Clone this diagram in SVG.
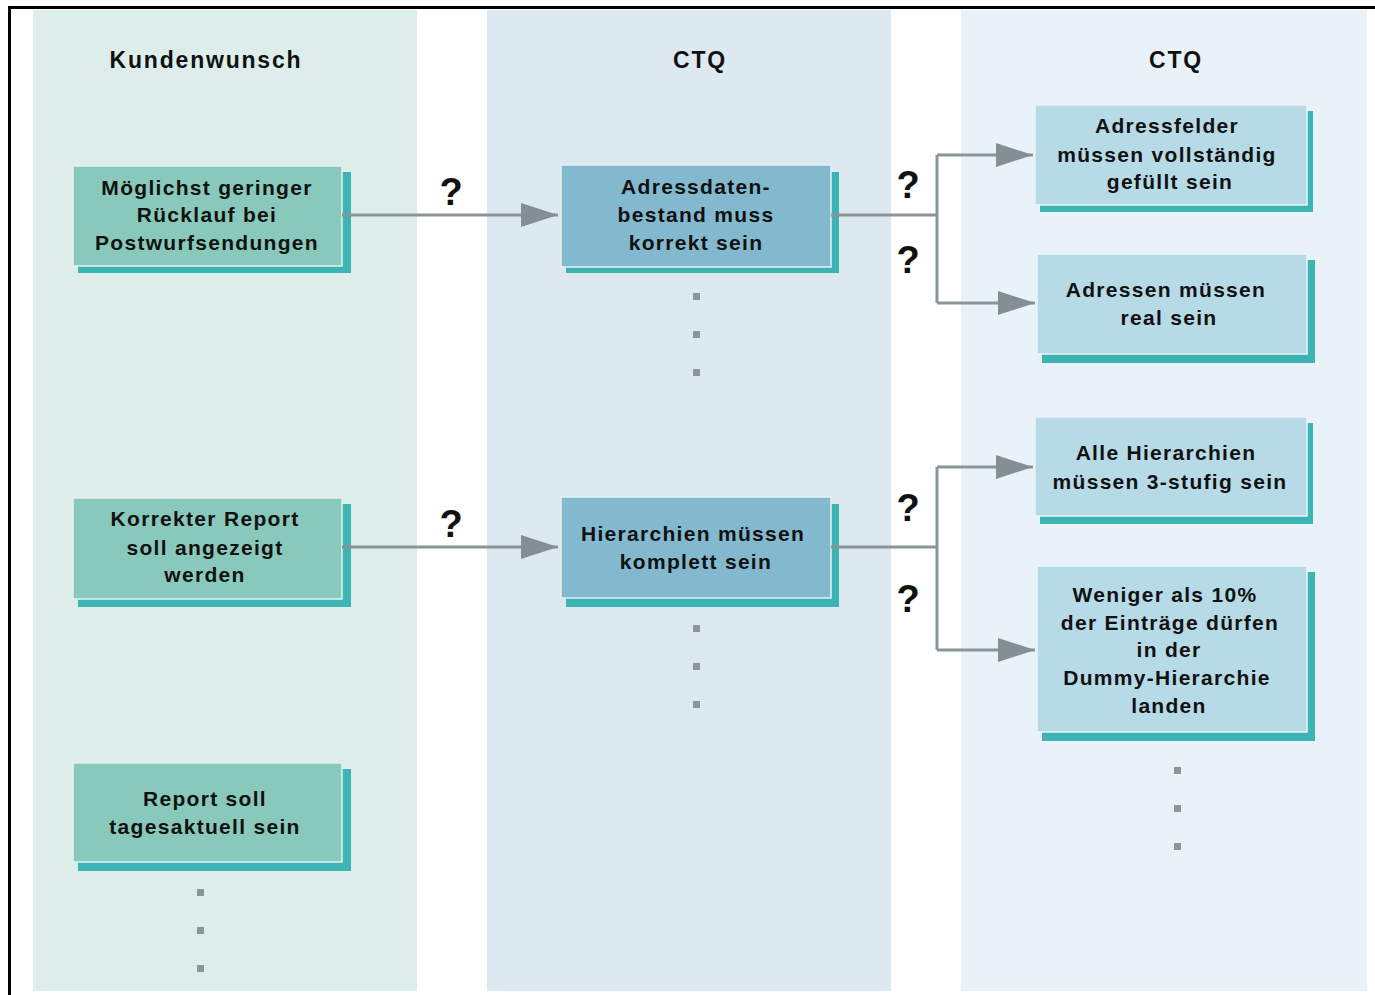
<svg xmlns="http://www.w3.org/2000/svg" width="1375" height="995" viewBox="0 0 1375 995">
<style>
  .hdr { font-family: "Liberation Sans", Arial, sans-serif; font-size: 23px; font-weight: bold; fill: #111; text-anchor: middle; letter-spacing: 1.8px; }
  .t { font-family: "Liberation Sans", Arial, sans-serif; font-size: 21px; font-weight: bold; fill: #111; text-anchor: middle; letter-spacing: 1.3px; }
  .q { font-family: "Liberation Sans", Arial, sans-serif; font-size: 38px; font-weight: bold; fill: #111; text-anchor: middle; }
  .sh { fill: #3cb4b4; }
  .bl { fill: #89c9bc; stroke: #e4f2ef; stroke-width: 1.5; }
  .bm { fill: #83b9cf; stroke: #e4eff5; stroke-width: 1.5; }
  .br { fill: #b7dae7; stroke: #ebf4f8; stroke-width: 1.5; }
  .ln { fill: none; stroke: #8a9599; stroke-width: 3; }
  .dot { fill: #8a969c; }
</style>
<defs>
  <marker id="ah" markerWidth="37" markerHeight="24" refX="37" refY="12" orient="auto" markerUnits="userSpaceOnUse">
    <path d="M0,0 L37,12 L0,24 Z" fill="#838f95"/>
  </marker>
</defs>
<rect width="1375" height="995" fill="#ffffff"/>
<!-- frame -->
<path d="M9.5,995 V7.5 H1375" fill="none" stroke="#000" stroke-width="3"/>
<!-- columns -->
<rect x="33" y="10" width="384" height="981" fill="#ddeeea"/>
<rect x="487" y="10" width="404" height="981" fill="#dde9f1"/>
<rect x="961" y="10" width="406" height="981" fill="#e9f2f8"/>
<text class="hdr" x="206" y="68">Kundenwunsch</text>
<text class="hdr" x="700" y="68">CTQ</text>
<text class="hdr" x="1176" y="68">CTQ</text>

<!-- left column nodes -->
<g id="k1">
  <rect class="sh" x="78" y="172" width="273" height="101"/>
  <rect class="bl" x="73" y="166" width="269" height="100"/>
  <text class="t" x="207" y="195">Möglichst geringer</text>
  <text class="t" x="207" y="222">Rücklauf bei</text>
  <text class="t" x="207" y="250">Postwurfsendungen</text>
</g>
<g id="k2">
  <rect class="sh" x="78" y="504" width="273" height="103"/>
  <rect class="bl" x="73" y="498" width="269" height="101"/>
  <text class="t" x="205" y="526">Korrekter Report</text>
  <text class="t" x="205" y="555">soll angezeigt</text>
  <text class="t" x="205" y="582">werden</text>
</g>
<g id="k3">
  <rect class="sh" x="78" y="769" width="273" height="102"/>
  <rect class="bl" x="73" y="763" width="269" height="99"/>
  <text class="t" x="205" y="806">Report soll</text>
  <text class="t" x="205" y="834">tagesaktuell sein</text>
</g>
<g id="kdots">
  <rect class="dot" x="197" y="889" width="7" height="7"/>
  <rect class="dot" x="197" y="927" width="7" height="7"/>
  <rect class="dot" x="197" y="965" width="7" height="7"/>
</g>

<!-- middle column nodes -->
<g id="c1">
  <rect class="sh" x="566" y="172" width="273" height="101"/>
  <rect class="bm" x="561" y="165" width="270" height="102"/>
  <text class="t" x="696" y="194">Adressdaten-</text>
  <text class="t" x="696" y="222">bestand muss</text>
  <text class="t" x="696" y="250">korrekt sein</text>
</g>
<g id="cdots1">
  <rect class="dot" x="693" y="293" width="7" height="7"/>
  <rect class="dot" x="693" y="331" width="7" height="7"/>
  <rect class="dot" x="693" y="369" width="7" height="7"/>
</g>
<g id="c2">
  <rect class="sh" x="566" y="504" width="273" height="103"/>
  <rect class="bm" x="561" y="497" width="270" height="101"/>
  <text class="t" x="693" y="541">Hierarchien müssen</text>
  <text class="t" x="696" y="569">komplett sein</text>
</g>
<g id="cdots2">
  <rect class="dot" x="693" y="625" width="7" height="7"/>
  <rect class="dot" x="693" y="663" width="7" height="7"/>
  <rect class="dot" x="693" y="701" width="7" height="7"/>
</g>

<!-- right column nodes -->
<g id="r1">
  <rect class="sh" x="1040" y="111" width="273" height="101"/>
  <rect class="br" x="1035" y="105" width="272" height="100"/>
  <text class="t" x="1167" y="133">Adressfelder</text>
  <text class="t" x="1167" y="162">müssen vollständig</text>
  <text class="t" x="1170" y="189">gefüllt sein</text>
</g>
<g id="r2">
  <rect class="sh" x="1042" y="260" width="273" height="103"/>
  <rect class="br" x="1037" y="254" width="270" height="100"/>
  <text class="t" x="1166" y="297">Adressen müssen</text>
  <text class="t" x="1169" y="325">real sein</text>
</g>
<g id="r3">
  <rect class="sh" x="1040" y="423" width="273" height="101"/>
  <rect class="br" x="1035" y="417" width="272" height="99"/>
  <text class="t" x="1166" y="460">Alle Hierarchien</text>
  <text class="t" x="1170" y="489">müssen 3-stufig sein</text>
</g>
<g id="r4">
  <rect class="sh" x="1042" y="572" width="273" height="169"/>
  <rect class="br" x="1037" y="566" width="270" height="166"/>
  <text class="t" x="1165" y="602">Weniger als 10%</text>
  <text class="t" x="1170" y="630">der Einträge dürfen</text>
  <text class="t" x="1169" y="657">in der</text>
  <text class="t" x="1167" y="685">Dummy-Hierarchie</text>
  <text class="t" x="1169" y="713">landen</text>
</g>
<g id="rdots">
  <rect class="dot" x="1174" y="767" width="7" height="7"/>
  <rect class="dot" x="1174" y="805" width="7" height="7"/>
  <rect class="dot" x="1174" y="843" width="7" height="7"/>
</g>

<!-- connectors -->
<g id="connectors">
  <path class="ln" d="M342,215 H558" marker-end="url(#ah)"/>
  <path class="ln" d="M342,547 H558" marker-end="url(#ah)"/>
  <path class="ln" d="M831,215 H937"/>
  <path class="ln" d="M937,155 V303"/>
  <path class="ln" d="M937,155 H1033" marker-end="url(#ah)"/>
  <path class="ln" d="M937,303 H1035" marker-end="url(#ah)"/>
  <path class="ln" d="M831,547 H937"/>
  <path class="ln" d="M937,467 V650"/>
  <path class="ln" d="M937,467 H1033" marker-end="url(#ah)"/>
  <path class="ln" d="M937,650 H1035" marker-end="url(#ah)"/>
  <text class="q" x="451" y="205">?</text>
  <text class="q" x="908" y="198">?</text>
  <text class="q" x="908" y="273">?</text>
  <text class="q" x="451" y="537">?</text>
  <text class="q" x="908" y="521">?</text>
  <text class="q" x="908" y="612">?</text>
</g>
</svg>
